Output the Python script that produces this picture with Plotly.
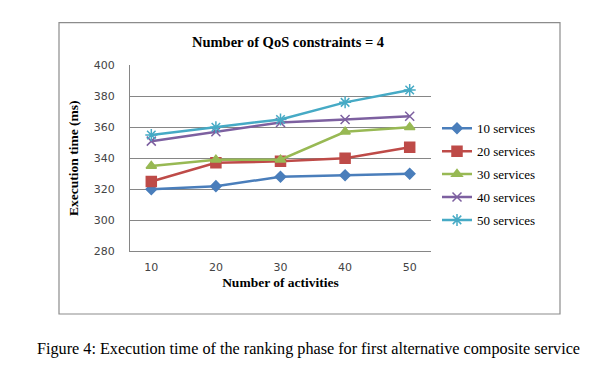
import plotly.graph_objects as go

categories = ["10", "20", "30", "40", "50"]
s10 = [320, 322, 328, 329, 330]
s20 = [325, 337, 338, 340, 347]
s30 = [335, 339, 339, 357, 360]
s40 = [351, 357, 363, 365, 367]
s50 = [355, 360, 365, 376, 384]
series_names = ["10 services", "20 services", "30 services", "40 services", "50 services"]
y_ticks = [280, 300, 320, 340, 360, 380, 400]

W, H = 592, 367
colors = ["#4A7EBB", "#BE4B48", "#98B954", "#7D60A0", "#46AAC5"]
symbols = ["diamond", "square", "triangle-up", "x-thin-open", "asterisk-open"]
sizes = [8, 10, 9, 9, 10]

fig = go.Figure()
for i, (name, vals) in enumerate(zip(series_names, [s10, s20, s30, s40, s50])):
    fig.add_trace(go.Scatter(
        x=categories, y=vals, name=name, mode="lines+markers",
        legendgroup=name,
        line=dict(color=colors[i], width=2.5),
        marker=dict(symbol=symbols[i], size=sizes[i], color=colors[i],
                    line=dict(color=colors[i], width=1.5)),
    ))

def px_x(x):
    return x / W

def px_y(y):
    return (H - y) / H

tickfont = dict(family="DejaVu Sans", size=11, color="#444")
titlefont = dict(family="Liberation Serif", size=13.5, color="#000")

fig.update_layout(
    width=W, height=H,
    margin=dict(l=0, r=0, t=0, b=0),
    paper_bgcolor="white", plot_bgcolor="white",
    showlegend=True,
    legend=dict(x=px_x(429), y=px_y(103), xanchor="left", yanchor="top",
                font=dict(family="Liberation Serif", size=13, color="#000"),
                tracegroupgap=3, itemwidth=30, bgcolor="rgba(0,0,0,0)"),
    xaxis=dict(domain=[px_x(122), px_x(423)], type="category",
               showline=True, linecolor="#868686", linewidth=1,
               showgrid=False, ticks="", ticklabelstandoff=6, tickfont=tickfont,
               title=dict(text="<b>Number of activities</b>", standoff=4, font=titlefont)),
    yaxis=dict(domain=[px_y(246), px_y(53)], range=[280, 400], tickvals=y_ticks,
               showline=True, linecolor="#868686", linewidth=1,
               showgrid=True, gridcolor="#868686", gridwidth=1,
               ticks="", ticklabelstandoff=12, tickfont=tickfont,
               title=dict(text="<b>Execution time (ms)</b>", standoff=12, font=titlefont)),
    shapes=[dict(type="rect", xref="paper", yref="paper",
                 x0=px_x(51), x1=px_x(552), y0=px_y(311), y1=px_y(9),
                 line=dict(color="#8C8C8C", width=1.2), layer="below")],
    annotations=[
        dict(text="<b>Number of QoS constraints = 4</b>", xref="paper", yref="paper",
             x=px_x(280), y=px_y(29), xanchor="center", yanchor="middle", showarrow=False,
             font=dict(family="Liberation Serif", size=14.5, color="#000")),
        dict(text="Figure 4: Execution time of the ranking phase for first alternative composite service",
             xref="paper", yref="paper", x=px_x(300), y=px_y(347), xanchor="center", yanchor="middle",
             showarrow=False, font=dict(family="Liberation Serif", size=16.2, color="#000")),
    ],
)

fig.write_html("out.html")
